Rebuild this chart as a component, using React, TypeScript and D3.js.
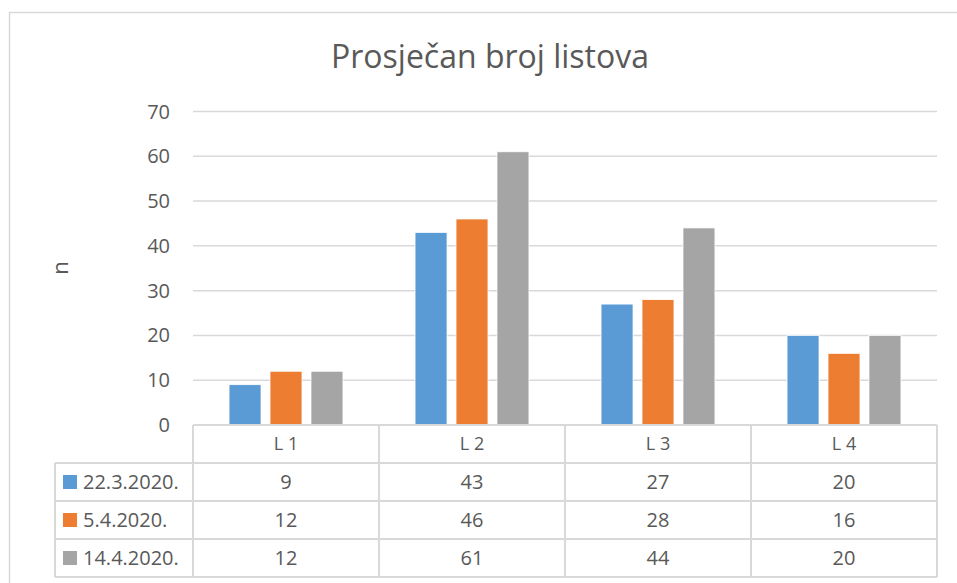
import React, { useEffect, useRef } from 'react';
import * as d3 from 'd3';

// Data
const categories = ['L 1', 'L 2', 'L 3', 'L 4'];
const seriesNames = ['22.3.2020.', '5.4.2020.', '14.4.2020.'];
const seriesColors = ['#5B9BD5', '#ED7D31', '#A5A5A5'];
const values22_3 = [9, 43, 27, 20];
const values5_4 = [12, 46, 28, 16];
const values14_4 = [12, 61, 44, 20];
const yTicks = [0, 10, 20, 30, 40, 50, 60, 70];

const App = () => {
  const svgRef = useRef<SVGSVGElement | null>(null);

  useEffect(() => {
    const width = 957;
    const height = 583;
    const textColor = '#595959';
    const lineColor = '#D9D9D9';
    const font = '"Open Sans", "Noto Sans", sans-serif';
    const seriesValues = [values22_3, values5_4, values14_4];

    const svg = d3.select(svgRef.current)
      .attr('width', width)
      .attr('height', height)
      .style('font-family', font);
    svg.selectAll('*').remove();

    svg.append('rect').attr('width', width).attr('height', height).attr('fill', '#fff');

    // chart frame
    svg.append('rect')
      .attr('x', 9.5).attr('y', 12.5)
      .attr('width', 980).attr('height', 600)
      .attr('fill', 'none')
      .attr('stroke', lineColor)
      .attr('stroke-width', 1.5);

    // Scales
    const x0 = d3.scaleBand().domain(categories).range([193, 937]);
    const x1 = d3.scaleBand()
      .domain(seriesNames)
      .range([0, x0.bandwidth()])
      .paddingInner(0.22)
      .paddingOuter(0.88);
    const y = d3.scaleLinear().domain([0, 70]).range([425, 111.5]);

    // Title
    svg.append('text')
      .attr('x', 490).attr('y', 68)
      .attr('text-anchor', 'middle')
      .attr('fill', textColor)
      .style('font-size', '32px')
      .text('Prosječan broj listova');

    // Gridlines
    svg.append('g').selectAll('line')
      .data(yTicks.filter(d => d > 0))
      .enter()
      .append('line')
      .attr('x1', 193).attr('x2', 937)
      .attr('y1', d => y(d)).attr('y2', d => y(d))
      .attr('stroke', lineColor)
      .attr('stroke-width', 1.5);

    // Y tick labels
    svg.append('g').selectAll('text')
      .data(yTicks)
      .enter()
      .append('text')
      .attr('x', 170)
      .attr('y', d => y(d))
      .attr('dy', '0.35em')
      .attr('text-anchor', 'end')
      .attr('fill', textColor)
      .style('font-size', '20px')
      .text(d => d);

    // Y axis title
    svg.append('text')
      .attr('transform', 'translate(68,268) rotate(-90)')
      .attr('text-anchor', 'middle')
      .attr('fill', textColor)
      .style('font-size', '22px')
      .text('n');

    // Bars
    seriesNames.forEach((name, si) => {
      svg.append('g').selectAll('rect')
        .data(seriesValues[si])
        .enter()
        .append('rect')
        .attr('x', (d, i) => (x0(categories[i]) as number) + (x1(name) as number))
        .attr('y', d => y(d))
        .attr('width', x1.bandwidth())
        .attr('height', d => y(0) - y(d))
        .attr('fill', seriesColors[si])
        .attr('stroke', '#fff')
        .attr('stroke-width', 0.75);
    });

    // Data table
    const rows = d3.scaleBand().domain(['header', ...seriesNames]).range([425, 577]);
    const legendLeft = 55;
    const table = svg.append('g');

    // horizontal lines
    table.append('line')
      .attr('x1', 193).attr('x2', 937)
      .attr('y1', 425).attr('y2', 425)
      .attr('stroke', lineColor).attr('stroke-width', 2);
    seriesNames.forEach(name => {
      table.append('line')
        .attr('x1', legendLeft).attr('x2', 937)
        .attr('y1', rows(name) as number).attr('y2', rows(name) as number)
        .attr('stroke', lineColor).attr('stroke-width', 2);
    });
    table.append('line')
      .attr('x1', legendLeft).attr('x2', 937)
      .attr('y1', 577).attr('y2', 577)
      .attr('stroke', lineColor).attr('stroke-width', 2);

    // vertical lines
    table.append('line')
      .attr('x1', legendLeft).attr('x2', legendLeft)
      .attr('y1', rows(seriesNames[0]) as number).attr('y2', 577)
      .attr('stroke', lineColor).attr('stroke-width', 2);
    [...categories.map(c => x0(c) as number), 937].forEach(xv => {
      table.append('line')
        .attr('x1', xv).attr('x2', xv)
        .attr('y1', 425).attr('y2', 577)
        .attr('stroke', lineColor).attr('stroke-width', 2);
    });

    // header labels
    table.selectAll('.hdr')
      .data(categories)
      .enter()
      .append('text')
      .attr('class', 'hdr')
      .attr('x', d => (x0(d) as number) + x0.bandwidth() / 2)
      .attr('y', (rows('header') as number) + rows.bandwidth() / 2)
      .attr('dy', '0.35em')
      .attr('text-anchor', 'middle')
      .attr('fill', textColor)
      .style('font-size', '18px')
      .text(d => d);

    // series rows
    seriesNames.forEach((name, si) => {
      const cy = (rows(name) as number) + rows.bandwidth() / 2;
      table.append('rect')
        .attr('x', 63).attr('y', cy - 7)
        .attr('width', 14).attr('height', 14)
        .attr('fill', seriesColors[si]);
      table.append('text')
        .attr('x', 83).attr('y', cy)
        .attr('dy', '0.35em')
        .attr('fill', textColor)
        .style('font-size', '20px')
        .text(name);
      table.append('g').selectAll('text')
        .data(seriesValues[si])
        .enter()
        .append('text')
        .attr('x', (d, i) => (x0(categories[i]) as number) + x0.bandwidth() / 2)
        .attr('y', cy)
        .attr('dy', '0.35em')
        .attr('text-anchor', 'middle')
        .attr('fill', textColor)
        .style('font-size', '20px')
        .text(d => d);
    });
  }, []);

  return (
    <svg ref={svgRef} style={{ position: 'absolute', left: 0, top: 0 }}></svg>
  );
};

export default App;
